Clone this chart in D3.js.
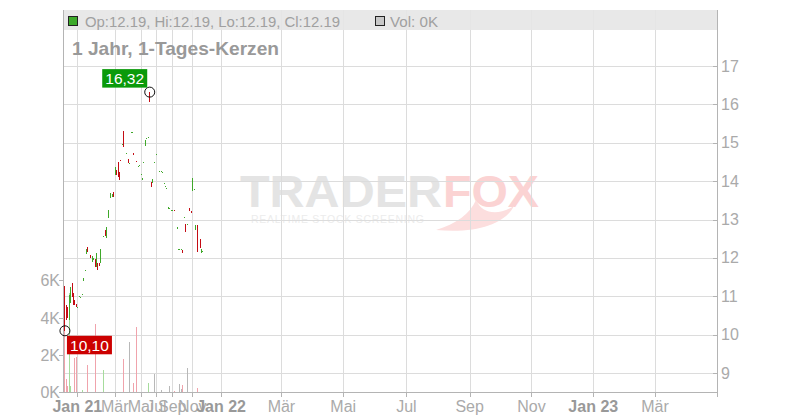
<!DOCTYPE html>
<html><head><meta charset="utf-8">
<script src="https://cdn.jsdelivr.net/npm/d3@7"></script>
<style>body{margin:0;background:#fff}svg{display:block;font-family:"Liberation Sans",Arial,sans-serif}</style>
</head><body><svg id="c" width="800" height="420"></svg>
<script>
// ---- data ----
const open = [11.25,10.77,10.73,10.38,10.82,11.35,11.08,10.90,10.80,10.73,
11.00,10.97,11.03,11.40,11.68,12.10,12.28,null,12.07,11.89,
11.95,11.97,11.76,11.87,11.87,11.87,null,12.55,12.73,12.52,
13.04,null,13.56,13.59,13.72,14.16,14.30,14.50,14.24,14.54,
14.97,15.31,null,14.74,14.58,14.47,15.29,15.27,14.74,null,
14.53,14.39,14.42,14.19,14.03,14.51,14.92,15.12,15.14,16.30,
13.99,13.95,14.49,null,14.71,null,14.26,14.26,14.23,13.95,
13.88,13.81,13.27,13.31,13.24,13.24,13.25,null,12.75,12.23,
12.23,12.23,12.21,13.07,12.88,12.88,null,13.31,13.22,13.75,
13.80,12.73,12.86,null,12.49,12.12,12.19];
const high = [11.27,10.77,10.73,11.03,11.25,11.35,11.08,10.90,10.80,10.73,
11.00,10.97,11.06,11.47,11.68,12.23,12.28,null,12.07,12.05,
12.00,11.97,12.13,11.87,11.87,12.23,null,12.57,12.73,12.80,
13.25,null,13.69,13.66,13.72,14.37,14.30,14.50,14.24,14.54,
14.97,15.31,null,14.74,14.58,14.47,15.29,15.27,14.74,null,
14.53,14.39,14.42,14.19,14.08,14.51,15.07,15.12,15.15,16.32,
13.99,14.06,14.49,null,14.71,null,14.26,14.26,14.23,13.95,
13.88,13.81,13.33,13.31,13.24,13.24,13.25,null,12.81,12.23,
12.23,12.23,12.21,13.07,12.88,12.88,null,13.31,13.22,14.07,
13.80,12.86,12.86,null,12.49,12.22,12.19];
const low = [10.10,10.38,10.43,10.38,10.82,10.99,10.77,10.77,10.73,10.73,
11.00,10.97,11.03,11.40,11.68,12.10,12.15,null,12.00,11.89,
11.95,11.76,11.76,11.68,11.79,11.87,null,12.55,12.57,12.52,
13.04,null,13.56,13.59,13.59,14.16,14.16,14.10,14.03,14.53,
14.97,14.89,null,14.74,14.47,14.47,15.29,15.27,14.68,null,
14.51,14.39,14.42,14.19,14.03,14.51,14.92,15.12,15.14,16.05,
13.85,13.95,14.49,null,14.71,null,14.26,14.26,14.23,13.95,
13.88,13.81,13.27,13.31,13.24,13.24,13.24,null,12.75,12.23,
12.23,12.23,12.13,13.07,12.68,12.88,null,13.22,13.18,13.75,
13.80,12.73,12.16,null,12.25,12.12,12.19];
const close = [10.47,10.38,10.43,11.03,11.25,10.99,10.77,10.77,10.73,10.73,
11.00,10.97,11.06,11.47,11.68,12.23,12.15,null,12.00,12.05,
12.00,11.76,12.13,11.68,11.79,12.23,null,12.57,12.57,12.80,
13.25,null,13.69,13.66,13.59,14.37,14.16,14.10,14.03,14.53,
14.97,14.89,null,14.74,14.47,14.47,15.29,15.27,14.68,null,
14.51,14.39,14.42,14.19,14.08,14.51,15.07,15.12,15.15,16.07,
13.85,14.06,14.49,null,14.71,null,14.26,14.26,14.23,13.95,
13.88,13.81,13.33,13.31,13.24,13.24,13.24,null,12.81,12.23,
12.23,12.23,12.13,13.07,12.68,12.88,null,13.22,13.18,14.05,
13.80,12.86,12.16,null,12.25,12.22,12.19];
const volume = [4800,700,300,5300,300,0,0,1850,1900,0,
0,0,100,0,0,0,1450,null,0,0,
0,3650,0,0,0,0,null,1200,0,0,
0,null,0,0,0,0,0,0,0,0,
0,1750,null,0,0,2700,0,0,500,null,
3500,0,0,0,0,0,0,0,500,0,
0,0,970,null,0,null,0,100,0,0,
0,0,0,300,0,0,60,null,0,0,
430,150,380,0,0,1270,null,0,0,0,
0,0,200,null,0,0,0];
const totalSlots = 454;          // trading-day slots incl. future
const tickSlots  = [9,35,53,64,75,89,109,151,194,238,282,325,368,411];
const tickLabels = ["Jan 21","Mär","Mai","Jul","Sep","Nov","Jan 22","Mär","Mai","Jul","Sep","Nov","Jan 23","Mär"];
const priceTicks = [9,10,11,12,13,14,15,16,17];
const volTicks = [0,2000,4000,6000];
const title = "1 Jahr, 1-Tages-Kerzen";

// ---- layout ----
const L=63,R=717,T=10,B=392;
const svg=d3.select("#c");
const x=d3.scaleLinear().domain([-1,totalSlots+0.1]).range([L,R]);
const y=d3.scaleLinear().domain([8.505,18.46]).range([B,T]);
const yv=d3.scaleLinear().domain([0,8000]).range([B,B-148.8]);

const data=open.map((o,i)=>({i,o,h:high[i],l:low[i],c:close[i],v:volume[i]})).filter(d=>d.o!=null);

// watermark
const wm=svg.append("g");
wm.append("text").attr("x",240).attr("y",207).attr("font-size",45).attr("font-weight","bold")
  .attr("fill","#e4e4e4").attr("textLength",202).attr("lengthAdjust","spacingAndGlyphs").text("TRADER");
wm.append("text").attr("x",443).attr("y",207).attr("font-size",45).attr("font-weight","bold")
  .attr("fill","#fbd3d3").attr("textLength",96).attr("lengthAdjust","spacingAndGlyphs").text("FOX");
wm.append("path").attr("d","M436,230 C456,224 470,214 476,200 C482,214 498,216 514,206 C506,222 480,234 436,230 Z")
  .attr("fill","#fcdede");
wm.append("text").attr("x",251).attr("y",223).attr("font-size",10.5).attr("fill","#ececec")
  .attr("letter-spacing",3).attr("textLength",176).attr("lengthAdjust","spacing").text("REALTIME STOCK SCREENING");

// grid
const grid=svg.append("g").attr("stroke","#dcdcdc").attr("shape-rendering","crispEdges");
grid.selectAll(".h").data(priceTicks).join("line").attr("x1",L).attr("x2",R)
  .attr("y1",d=>Math.round(y(d))+0.5).attr("y2",d=>Math.round(y(d))+0.5);
grid.selectAll(".v").data(tickSlots).join("line").attr("y1",T).attr("y2",B)
  .attr("x1",d=>Math.round(x(d))+0.5).attr("x2",d=>Math.round(x(d))+0.5);

// legend band
svg.append("rect").attr("x",L).attr("y",10).attr("width",R-L).attr("height",20).attr("fill","#e6e6e6").attr("opacity",0.9);
svg.append("rect").attr("x",68.5).attr("y",16.5).attr("width",9).attr("height",9).attr("fill","#3daa2a").attr("stroke","#222");
svg.append("text").attr("x",85).attr("y",26.5).attr("font-size",15.5).attr("fill","#a0a0a0")
  .attr("textLength",255).attr("lengthAdjust","spacingAndGlyphs")
  .text(`Op:${open[open.length-1]}, Hi:${high[high.length-1]}, Lo:${low[low.length-1]}, Cl:${close[close.length-1]}`);
svg.append("rect").attr("x",375.5).attr("y",16.5).attr("width",9).attr("height",9).attr("fill","#c8c8c8").attr("stroke","#222");
svg.append("text").attr("x",390).attr("y",26.5).attr("font-size",15.5).attr("fill","#a0a0a0")
  .attr("textLength",48).attr("lengthAdjust","spacingAndGlyphs")
  .text(`Vol: ${Math.round(volume[volume.length-1]/1000)}K`);
svg.append("text").attr("x",72).attr("y",54.5).attr("font-size",18.5).attr("font-weight","bold").attr("fill","#999")
  .attr("textLength",207).attr("lengthAdjust","spacingAndGlyphs").text(title);

// volume bars
const vcol=d=>d.c>d.o?"#a6dc9c":d.c<d.o?"#f0a3ac":"#b8b8b8";
svg.append("g").attr("shape-rendering","crispEdges").selectAll("rect").data(data.filter(d=>d.v>0)).join("rect")
  .attr("x",d=>Math.round(x(d.i))).attr("width",1.2)
  .attr("y",d=>yv(d.v)).attr("height",d=>B-yv(d.v)).attr("fill",vcol);

// candles
const ccol=d=>d.c>=d.o?"#3fa82a":"#c40c14";
const cg=svg.append("g").attr("shape-rendering","crispEdges");
cg.selectAll("line").data(data.filter(d=>d.h>d.l)).join("line")
  .attr("x1",d=>Math.round(x(d.i))+0.5).attr("x2",d=>Math.round(x(d.i))+0.5)
  .attr("y1",d=>y(d.h)).attr("y2",d=>y(d.l)).attr("stroke",ccol).attr("stroke-width",1);
cg.selectAll("rect").data(data).join("rect")
  .attr("x",d=>Math.round(x(d.i))).attr("width",1.4)
  .attr("y",d=>y(Math.max(d.o,d.c))).attr("height",d=>Math.max(1,y(Math.min(d.o,d.c))-y(Math.max(d.o,d.c))))
  .attr("fill",ccol);

// axes lines
const ax=svg.append("g").attr("stroke","#b4b4b4").attr("shape-rendering","crispEdges");
ax.append("line").attr("x1",L+0.5).attr("x2",L+0.5).attr("y1",T).attr("y2",B);
ax.append("line").attr("x1",R+0.5).attr("x2",R+0.5).attr("y1",T).attr("y2",B+5);
ax.append("line").attr("x1",L).attr("x2",R).attr("y1",B+0.5).attr("y2",B+0.5);
ax.selectAll(".tx").data(tickSlots).join("line").attr("x1",d=>Math.round(x(d))+0.5).attr("x2",d=>Math.round(x(d))+0.5).attr("y1",B).attr("y2",B+5);
ax.selectAll(".ty").data(priceTicks).join("line").attr("x1",R-4).attr("x2",R).attr("y1",d=>Math.round(y(d))+0.5).attr("y2",d=>Math.round(y(d))+0.5);
ax.selectAll(".tv").data(volTicks).join("line").attr("x1",L-4).attr("x2",L).attr("y1",d=>Math.round(yv(d))+0.5).attr("y2",d=>Math.round(yv(d))+0.5);

// axis labels
svg.append("g").selectAll("text").data(priceTicks).join("text").attr("x",R+4).attr("y",d=>y(d)+5.5)
  .attr("font-size",16).attr("fill","#aaa").text(d=>d);
svg.append("g").selectAll("text").data(volTicks).join("text").attr("x",L-3).attr("y",d=>yv(d)+6)
  .attr("text-anchor","end").attr("font-size",16).attr("fill","#aaa").text(d=>(d/1000)+"K");
svg.append("g").selectAll("text").data(tickSlots).join("text").attr("x",d=>x(d)).attr("y",412)
  .attr("text-anchor","middle").attr("font-size",16)
  .attr("font-weight",(d,i)=>tickLabels[i].startsWith("Jan")?"bold":"normal")
  .attr("fill",(d,i)=>tickLabels[i].startsWith("Jan")?"#999":"#aaa")
  .text((d,i)=>tickLabels[i]);

// high / low markers
const hi=data.reduce((a,b)=>b.h>a.h?b:a), lo=data.reduce((a,b)=>b.l<a.l?b:a);
const fmt=v=>v.toFixed(2).replace(".",",");
function marker(d,val,color,above){
  const cx=x(d.i)+0.5, cy=y(val);
  svg.append("circle").attr("cx",cx).attr("cy",cy).attr("r",5).attr("fill","none").attr("stroke","#111").attr("stroke-width",1);
  const w=45,h=18.5;
  const bx=above?cx-2.5-w:cx+2, by=above?cy-4.5-h:cy+5;
  svg.append("rect").attr("x",bx).attr("y",by).attr("width",w).attr("height",h).attr("fill",color);
  svg.append("text").attr("x",bx+w/2).attr("y",by+h/2+5.5).attr("text-anchor","middle").attr("font-size",15.5).attr("fill","#fff").text(fmt(val));
}
marker(hi,hi.h,"#0a9a0a",true);
marker(lo,lo.l,"#cc0000",false);
</script></body></html>
